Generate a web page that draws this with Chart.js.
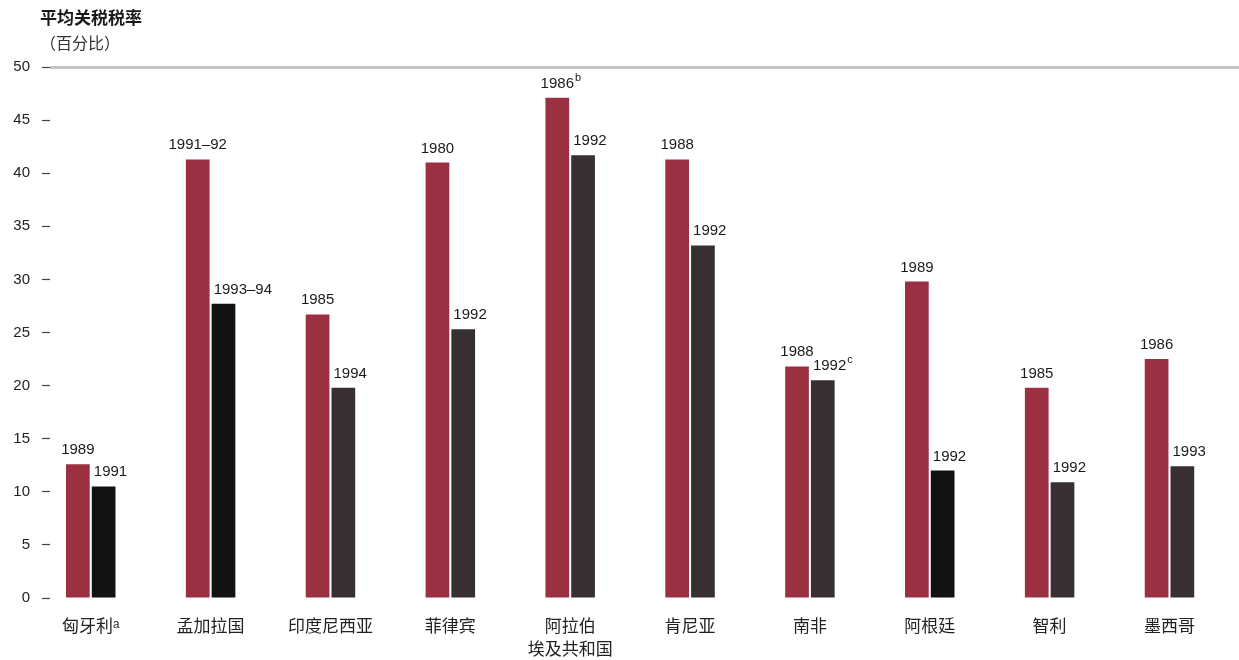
<!DOCTYPE html>
<html>
<head>
<meta charset="utf-8">
<script src="https://cdn.jsdelivr.net/npm/chart.js@4"></script>
<style>
  body { margin: 0; background: #fff; }
  #wrap { position: relative; width: 1239px; height: 660px; }
  .title { position: absolute; left: 40px; font-family: "Noto Sans CJK SC", sans-serif; color: #1a1a1a; }
  #t1 { top: 4px; font-size: 17px; font-weight: bold; }
  #t2 { top: 30px; font-size: 16px; color: #333; }
</style>
</head>
<body>
<div id="wrap">
  <canvas id="tariffChart" width="1239" height="660"></canvas>
  <div class="title" id="t1">平均关税税率</div>
  <div class="title" id="t2">（百分比）</div>
</div>
<script>
const countries = [['匈牙利ᵃ'], ['孟加拉国'], ['印度尼西亚'], ['菲律宾'], ['阿拉伯', '埃及共和国'],
                   ['肯尼亚'], ['南非'], ['阿根廷'], ['智利'], ['墨西哥']];
const earlyYears = ['1989', '1991–92', '1985', '1980', '1986', '1988', '1988', '1989', '1985', '1986'];
const earlyNotes = ['', '', '', '', 'b', '', '', '', '', ''];
const earlyRates = [12.6, 41.3, 26.7, 41.0, 47.1, 41.3, 21.8, 29.8, 19.8, 22.5];
const lateYears = ['1991', '1993–94', '1994', '1992', '1992', '1992', '1992', '1992', '1992', '1993'];
const lateNotes = ['', '', '', '', '', '', 'c', '', '', ''];
const lateRates = [10.5, 27.7, 19.8, 25.3, 41.7, 33.2, 20.5, 12.0, 10.9, 12.4];
const yTicks = [0, 5, 10, 15, 20, 25, 30, 35, 40, 45, 50];

const red = '#9a3042';
const dark = '#382f33';
const black = '#121212';
const lateColors = [black, black, dark, dark, dark, dark, dark, black, dark, dark];

// year labels above each bar, with optional superscript note
const yearLabels = {
    id: 'yearLabels',
    afterDatasetsDraw(chart) {
        const ctx = chart.ctx;
        ctx.save();
        ctx.fillStyle = '#1a1a1a';
        ctx.textBaseline = 'alphabetic';
        [[earlyYears, earlyNotes, 'center'], [lateYears, lateNotes, 'left']].forEach(function (set, d) {
            chart.getDatasetMeta(d).data.forEach(function (bar, i) {
                const text = set[0][i];
                const note = set[1][i];
                ctx.font = '15px "Liberation Sans", Arial, sans-serif';
                const w = ctx.measureText(text).width;
                const x0 = set[2] === 'center' ? bar.x - w / 2 : bar.x - bar.width / 2 + 2;
                const y = bar.y - 10;
                ctx.textAlign = 'left';
                ctx.fillText(text, x0, y);
                if (note) {
                    ctx.font = '11px "Liberation Sans", Arial, sans-serif';
                    ctx.fillText(note, x0 + w + 1, y - 7);
                }
            });
        });
        ctx.restore();
    }
};

new Chart(document.getElementById('tariffChart'), {
    type: 'bar',
    data: {
        datasets: [{
            label: 'early',
            data: earlyRates.map((v, i) => ({ x: i, y: v })),
            backgroundColor: red
        }, {
            label: 'late',
            data: lateRates.map((v, i) => ({ x: i, y: v })),
            backgroundColor: lateColors
        }]
    },
    options: {
        responsive: false,
        animation: false,
        layout: { padding: { top: 67, left: 0, right: 0, bottom: 0 } },
        datasets: { bar: { categoryPercentage: 0.43, barPercentage: 0.92 } },
        plugins: { legend: { display: false }, tooltip: { enabled: false } },
        scales: {
            x: {
                type: 'linear',
                offset: false,
                min: -0.34,
                max: 9.58,
                grid: { display: false, offset: false },
                border: { display: false },
                afterBuildTicks: function (scale) {
                    scale.ticks = countries.map((c, i) => ({ value: i }));
                },
                afterFit: function (scale) { scale.height = 62; },
                ticks: {
                    autoSkip: false,
                    maxRotation: 0,
                    padding: 8,
                    color: '#222',
                    font: { family: '"Noto Sans CJK SC", sans-serif', size: 17, lineHeight: 1.35 },
                    callback: function (v) {
                        const c = countries[v];
                        return c ? (c.length > 1 ? c : c[0]) : '';
                    }
                }
            },
            y: {
                min: 0,
                max: 50,
                afterBuildTicks: function (scale) {
                    scale.ticks = yTicks.map(v => ({ value: v }));
                },
                afterFit: function (scale) { scale.width = 50; },
                border: { display: false },
                grid: {
                    drawOnChartArea: true,
                    color: ctx => ctx.tick && ctx.tick.value === 50 ? '#c4c4c4' : 'rgba(0,0,0,0)',
                    lineWidth: ctx => ctx.tick && ctx.tick.value === 50 ? 3 : 1,
                    tickColor: '#444',
                    tickLength: 8,
                    tickWidth: 1.2
                },
                ticks: {
                    padding: 12,
                    color: '#222',
                    font: { family: '"Liberation Sans", Arial, sans-serif', size: 15 }
                }
            }
        }
    },
    plugins: [yearLabels]
});
</script>
</body>
</html>
